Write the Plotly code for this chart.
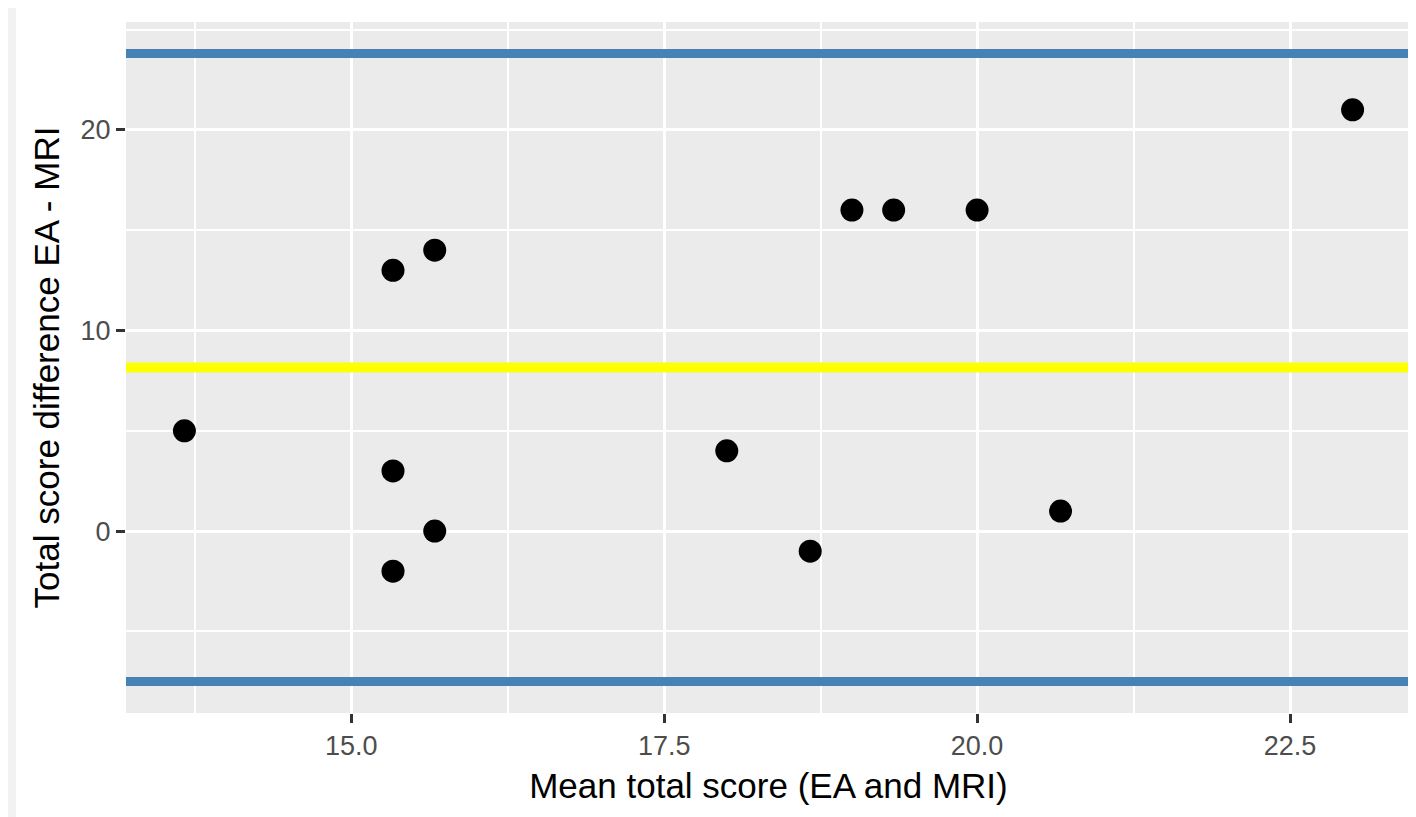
import numpy as np
import plotly.graph_objects as go

# Bland-Altman data
mean_score = [41/3, 46/3, 46/3, 46/3, 47/3, 47/3, 18.0, 56/3, 19.0, 58/3, 20.0, 62/3, 23.0]
diff_score = [5, 13, 3, -2, 14, 0, 4, -1, 16, 16, 16, 1, 21]

x_tickvals = [15.0, 17.5, 20.0, 22.5]
x_ticktext = ["15.0", "17.5", "20.0", "22.5"]
y_tickvals = [0, 10, 20]
y_ticktext = ["0", "10", "20"]

d = np.array(diff_score, dtype=float)
bias = d.mean()
sd = d.std(ddof=1)
upper = bias + 1.96 * sd
lower = bias - 1.96 * sd

# ggplot-like expansion (5%)
xs = np.array(mean_score)
xlo, xhi = xs.min(), xs.max()
xpad = 0.05 * (xhi - xlo)
ylo, yhi = min(d.min(), lower), max(d.max(), upper)
ypad = 0.05 * (yhi - ylo)

FONT = "Liberation Sans, Arial, sans-serif"

W, H = 1408, 809
ML, MR, MT, MB = 118, 5, 14, 104
PW, PH = W - ML - MR, H - MT - MB

fig = go.Figure()
fig.add_trace(go.Scatter(
    x=mean_score, y=diff_score, mode="markers",
    marker=dict(color="black", size=23, line=dict(width=0)),
    showlegend=False, hoverinfo="x+y",
))

for val, col, w in [(upper, "#4682B4", 9), (lower, "#4682B4", 9), (bias, "#FFFF00", 10)]:
    fig.add_hline(y=val, line=dict(color=col, width=w), layer="above")

fig.update_layout(
    width=W, height=H,
    margin=dict(l=ML, r=MR, t=MT, b=MB),
    paper_bgcolor="white",
    plot_bgcolor="#EBEBEB",
    font=dict(family=FONT, color="black"),
    showlegend=False,
)

fig.update_xaxes(
    automargin=False,
    range=[xlo - xpad, xhi + xpad],
    tickvals=x_tickvals, ticktext=x_ticktext,
    showgrid=True, gridcolor="white", gridwidth=3,
    minor=dict(tickvals=[13.75, 16.25, 18.75, 21.25], showgrid=True, gridcolor="white", gridwidth=1.5, ticklen=0),
    zeroline=False, showline=False,
    ticks="outside", ticklen=9, tickwidth=2.5, tickcolor="#333333",
    tickfont=dict(size=27, color="#4D4D4D", family=FONT),
    title=dict(text="Mean total score (EA and MRI)", font=dict(size=35, color="black", family=FONT), standoff=13),
)
fig.update_yaxes(
    automargin=False,
    range=[ylo - ypad, yhi + ypad],
    tickvals=y_tickvals, ticktext=y_ticktext,
    showgrid=True, gridcolor="white", gridwidth=3,
    minor=dict(tickvals=[-5, 5, 15, 25], showgrid=True, gridcolor="white", gridwidth=1.5, ticklen=0),
    zeroline=False, showline=False,
    ticks="outside", ticklen=9, tickwidth=2.5, tickcolor="#333333",
    tickfont=dict(size=27, color="#4D4D4D", family=FONT),
    title=dict(text="Total score difference EA - MRI", font=dict(size=35, color="black", family=FONT), standoff=10),
)

# faint screenshot frame strip at the left edge (outside the plotting area)
fig.add_shape(type="rect", xref="paper", yref="paper",
              x0=-ML/PW, x1=-(ML - 8)/PW, y0=-MB/PH, y1=(PH + MT)/PH,
              fillcolor="#F2F2F2", line=dict(width=0), layer="below")

fig.write_html("out.html")
